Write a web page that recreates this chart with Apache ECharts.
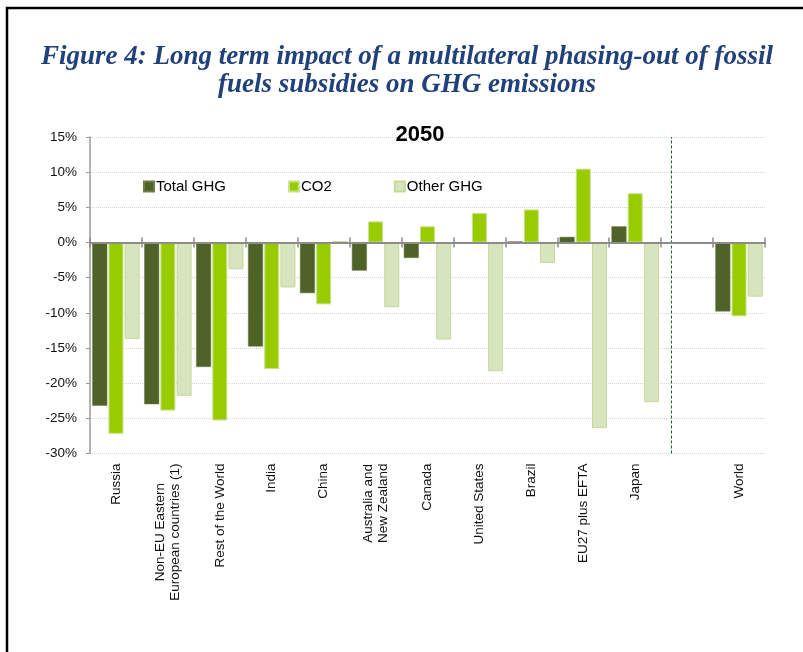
<!DOCTYPE html>
<html>
<head>
<meta charset="utf-8">
<script src="https://cdn.jsdelivr.net/npm/echarts@6/dist/echarts.min.js"></script>
<style>
html,body{margin:0;padding:0;background:#fff;}
#chart{width:803px;height:652px;}
</style>
</head>
<body>
<div id="chart"></div>
<script>
const categories = ['Russia', 'Non-EU Eastern\nEuropean countries (1)', 'Rest of the World', 'India', 'China',
  'Australia and\nNew Zealand', 'Canada', 'United States', 'Brazil', 'EU27 plus EFTA', 'Japan', '', 'World'];
const totalGHG = [-23.2, -23.0, -17.7, -14.8, -7.2, -4.0, -2.2, 0.0, 0.15, 0.8, 2.3, null, -9.8];
const co2 = [-27.2, -23.9, -25.3, -18.0, -8.8, 3.0, 2.3, 4.2, 4.7, 10.5, 7.0, null, -10.5];
const otherGHG = [-13.7, -21.8, -3.8, -6.4, 0.2, -9.2, -13.8, -18.3, -2.9, -26.4, -22.7, null, -7.7];
const seriesNames = ['Total GHG', 'CO2', 'Other GHG'];
const yMin = -30, yMax = 15, yStep = 5;
const dividerIndex = 11;

const SANS = '"Liberation Sans", Arial, sans-serif';
const chart = echarts.init(document.getElementById('chart'));

const catLabelFormatter = function (v) {
  if (!v) return '';
  return v.split('\n').map(s => '{c|' + s + '}').join('\n');
};

const gridRect = { left: 90, right: 38, top: 137, bottom: 198.5, containLabel: false };

const zeroCatAxis = (gridIndex, inside) => ({
  type: 'category', data: categories, gridIndex: gridIndex, position: 'bottom',
  axisLine: { onZero: true, lineStyle: { color: '#8c8c8c', width: 2 } },
  axisTick: { show: true, inside: inside, length: 5, interval: 0, lineStyle: { color: '#8c8c8c', width: 1.5 } },
  axisLabel: { show: false }, splitLine: { show: false }, z: 5
});

chart.setOption({
  animation: false,
  backgroundColor: '#fff',
  title: [
    {
      text: 'Figure 4: Long term impact of a multilateral phasing-out of fossil\nfuels subsidies on GHG emissions',
      left: 402, top: 38, textAlign: 'center',
      textStyle: { fontFamily: '"Liberation Serif", "Times New Roman", serif', fontStyle: 'italic', fontWeight: 'bold',
        fontSize: 27, lineHeight: 28, color: '#21417a' }
    },
    {
      text: '2050', left: 415, top: 119, textAlign: 'center',
      textStyle: { fontFamily: SANS, fontWeight: 'bold', fontSize: 22, color: '#000' }
    }
  ],
  legend: {
    data: seriesNames, left: 138, top: 174, itemWidth: 10, itemHeight: 10, itemGap: 62,
    icon: 'rect', selectedMode: false,
    textStyle: { fontFamily: SANS, fontSize: 15, color: '#000', padding: [0, 0, 0, -3] }
  },
  grid: [gridRect, Object.assign({}, gridRect)],
  xAxis: [
    {
      type: 'category', data: categories, position: 'bottom', gridIndex: 0,
      axisLine: { show: false, onZero: false }, axisTick: { show: false },
      axisLabel: {
        interval: 0, rotate: 90, margin: 10, formatter: catLabelFormatter,
        rich: { c: { align: 'center', fontFamily: SANS, fontSize: 13.5, color: '#111', lineHeight: 15 } }
      },
      splitLine: { show: false }
    },
    zeroCatAxis(0, false),
    zeroCatAxis(1, true)
  ],
  yAxis: [
    {
      type: 'value', min: yMin, max: yMax, interval: yStep, gridIndex: 0,
      axisLine: { show: true, lineStyle: { color: '#9a9a9a', width: 1.5 } },
      axisTick: { show: true, length: 4, lineStyle: { color: '#9a9a9a' } },
      axisLabel: { formatter: v => v + '%', margin: 13, fontFamily: SANS, fontSize: 13.5, color: '#111' },
      splitLine: { show: true, lineStyle: { color: '#d4d4d4', type: 'dotted', width: 1 } }
    },
    {
      type: 'value', min: yMin, max: yMax, interval: yStep, gridIndex: 1, show: false,
      splitLine: { show: false }
    }
  ],
  series: [
    {
      name: seriesNames[0], type: 'bar', data: totalGHG, barWidth: 15, barGap: '8%',
      itemStyle: { color: '#4f6228', borderColor: '#6b7d48', borderWidth: 0.5 },
      markLine: {
        silent: true, symbol: 'none', label: { show: false },
        lineStyle: { color: '#17661b', type: [3, 2], width: 1 },
        data: [{ xAxis: dividerIndex }]
      }
    },
    {
      name: seriesNames[1], type: 'bar', data: co2, barWidth: 15, barGap: '8%',
      itemStyle: { color: '#99cc00', borderColor: '#c6e38c', borderWidth: 1 }
    },
    {
      name: seriesNames[2], type: 'bar', data: otherGHG, barWidth: 15, barGap: '8%',
      itemStyle: { color: '#d7e4bd', borderColor: '#c3d99a', borderWidth: 1 }
    }
  ],
  graphic: [
    { type: 'rect', shape: { x: 7, y: 8, width: 820, height: 700 }, style: { fill: 'none', stroke: '#000', lineWidth: 2.5 }, z: 10, silent: true }
  ]
});
</script>
</body>
</html>
